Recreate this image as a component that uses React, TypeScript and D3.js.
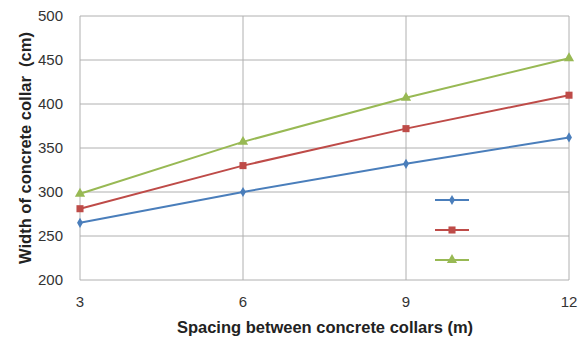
import React from "react";
import * as d3 from "d3";

const spacings = [3, 6, 9, 12];
const seriesA = [265, 300, 332, 362];
const seriesB = [281, 330, 372, 410];
const seriesC = [298, 357, 407, 452];
const yTicks = [200, 250, 300, 350, 400, 450, 500];
const xTicks = [3, 6, 9, 12];
const colors = ["#4A7EBB", "#BE4B48", "#98B954"];
const symbols = [d3.symbolDiamond, d3.symbolSquare, d3.symbolTriangle];
const symbolSizes = [30, 50, 45];

export default function App() {
  const W = 586, H = 340;
  const m = { left: 80, right: 17, top: 16, bottom: 60 };
  const x = d3.scaleLinear().domain([3, 12]).range([m.left, W - m.right]);
  const y = d3.scaleLinear().domain([200, 500]).range([H - m.bottom, m.top]);
  const line = d3.line<number>().x((_, i) => x(spacings[i])).y((d) => y(d));
  const all = [seriesA, seriesB, seriesC];
  const font = "Liberation Sans, Arial, sans-serif";
  return (
    <svg width={W} height={H} style={{ position: "absolute", left: 0, top: 0 }}>
      <rect width={W} height={H} fill="#fff" />
      {yTicks.map((t) => (
        <line key={"gy" + t} x1={x(3)} x2={x(12)} y1={y(t)} y2={y(t)} stroke="#b0b0b0" strokeWidth={1} />
      ))}
      {xTicks.map((t) => (
        <line key={"gx" + t} x1={x(t)} x2={x(t)} y1={y(200)} y2={y(500)} stroke="#b0b0b0" strokeWidth={1} />
      ))}
      {yTicks.map((t) => (
        <text key={"ty" + t} x={x(3) - 17} y={y(t)} dy="0.36em" textAnchor="end" fontSize={15} fontFamily={font} fill="#333">
          {t}
        </text>
      ))}
      {xTicks.map((t) => (
        <text key={"tx" + t} x={x(t)} y={y(200) + 27} textAnchor="middle" fontSize={15} fontFamily={font} fill="#333">
          {t}
        </text>
      ))}
      <text x={325} y={333} textAnchor="middle" fontSize={16.5} fontWeight="bold" fontFamily={font} fill="#222">
        Spacing between concrete collars (m)
      </text>
      <text transform={`translate(31,${148}) rotate(-90)`} textAnchor="middle" fontSize={16.5} fontWeight="bold" fontFamily={font} fill="#222" style={{ whiteSpace: "pre" }}>
        {"Width of concrete collar  (cm)"}
      </text>
      {all.map((s, k) => (
        <g key={"s" + k}>
          <path d={line(s) || ""} fill="none" stroke={colors[k]} strokeWidth={2} />
          {s.map((v, i) => (
            <path key={i} transform={`translate(${x(spacings[i])},${y(v)})`} d={d3.symbol(symbols[k], symbolSizes[k])() || ""} fill={colors[k]} />
          ))}
        </g>
      ))}
      {all.map((_, k) => (
        <g key={"l" + k} transform={`translate(452,${200 + k * 30})`}>
          <line x1={-17} x2={17} stroke={colors[k]} strokeWidth={2} />
          <path d={d3.symbol(symbols[k], symbolSizes[k])() || ""} fill={colors[k]} />
        </g>
      ))}
    </svg>
  );
}
